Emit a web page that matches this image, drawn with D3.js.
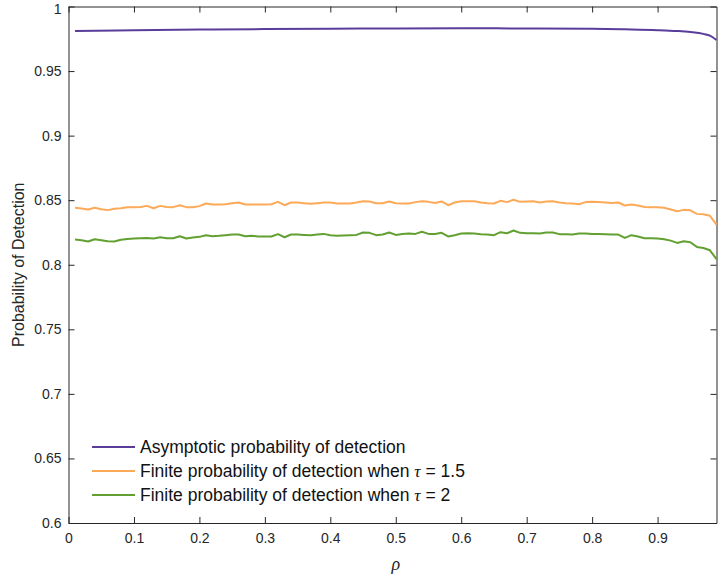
<!DOCTYPE html>
<html>
<head>
<meta charset="utf-8">
<script src="https://cdn.jsdelivr.net/npm/d3@7"></script>
<style>
  html, body { margin: 0; padding: 0; background: #fff; }
  svg { display: block; font-family: "Liberation Sans", Arial, Helvetica, sans-serif; }
</style>
</head>
<body>
<svg id="chart" width="720" height="579"></svg>
<script>
// rho grid for the simulated (finite) curves: 0.01 … 0.99
const rho = d3.range(1, 100).map(i => i / 100);

// Asymptotic detection probability (smooth curve), sampled at these rho values
const rhoAsym = [0.01, 0.1, 0.2, 0.3, 0.4, 0.5, 0.6, 0.7, 0.8, 0.85, 0.9, 0.93, 0.95, 0.97, 0.98, 0.99];
const pdAsym  = [0.9810, 0.9816, 0.9821, 0.9825, 0.9828, 0.9830, 0.9831, 0.9830, 0.9827, 0.9823, 0.9817, 0.9810, 0.9802, 0.9788, 0.9774, 0.9740];

// Finite probability of detection, tau = 1.5
const pdTau15 = [
  0.8441, 0.8436, 0.8428, 0.8441, 0.8430, 0.8423, 0.8433, 0.8438, 0.8446, 0.8446,
  0.8448, 0.8456, 0.8438, 0.8456, 0.8448, 0.8446, 0.8461, 0.8446, 0.8446, 0.8454,
  0.8474, 0.8466, 0.8466, 0.8469, 0.8477, 0.8482, 0.8466, 0.8466, 0.8466, 0.8466,
  0.8469, 0.8487, 0.8461, 0.8482, 0.8482, 0.8477, 0.8472, 0.8477, 0.8482, 0.8482,
  0.8474, 0.8474, 0.8474, 0.8482, 0.8492, 0.8490, 0.8477, 0.8477, 0.8490, 0.8477,
  0.8474, 0.8474, 0.8485, 0.8492, 0.8487, 0.8479, 0.8490, 0.8461, 0.8482, 0.8492,
  0.8492, 0.8492, 0.8482, 0.8477, 0.8474, 0.8495, 0.8485, 0.8503, 0.8487, 0.8490,
  0.8492, 0.8482, 0.8490, 0.8492, 0.8482, 0.8477, 0.8474, 0.8469, 0.8485, 0.8487,
  0.8485, 0.8482, 0.8479, 0.8482, 0.8459, 0.8466, 0.8459, 0.8448, 0.8446, 0.8446,
  0.8441, 0.8428, 0.8415, 0.8425, 0.8422, 0.8394, 0.8391, 0.8379, 0.8311
];

// Finite probability of detection, tau = 2
const pdTau2 = [
  0.8195, 0.8190, 0.8180, 0.8198, 0.8190, 0.8182, 0.8180, 0.8193, 0.8200, 0.8203,
  0.8205, 0.8208, 0.8203, 0.8213, 0.8205, 0.8205, 0.8221, 0.8203, 0.8211, 0.8216,
  0.8229, 0.8221, 0.8224, 0.8229, 0.8234, 0.8234, 0.8221, 0.8224, 0.8219, 0.8219,
  0.8219, 0.8237, 0.8213, 0.8234, 0.8234, 0.8231, 0.8229, 0.8234, 0.8239, 0.8229,
  0.8224, 0.8226, 0.8229, 0.8231, 0.8250, 0.8247, 0.8229, 0.8234, 0.8250, 0.8231,
  0.8239, 0.8242, 0.8239, 0.8255, 0.8239, 0.8239, 0.8247, 0.8219, 0.8229, 0.8242,
  0.8244, 0.8242, 0.8237, 0.8234, 0.8229, 0.8252, 0.8244, 0.8265, 0.8247, 0.8244,
  0.8244, 0.8242, 0.8250, 0.8250, 0.8237, 0.8237, 0.8234, 0.8242, 0.8242, 0.8239,
  0.8239, 0.8237, 0.8234, 0.8234, 0.8208, 0.8229, 0.8219, 0.8205, 0.8205, 0.8203,
  0.8198, 0.8187, 0.8169, 0.8182, 0.8174, 0.8138, 0.8130, 0.8112, 0.8043
];

const xTicks = [0, 0.1, 0.2, 0.3, 0.4, 0.5, 0.6, 0.7, 0.8, 0.9];
const yTicks = [0.6, 0.65, 0.7, 0.75, 0.8, 0.85, 0.9, 0.95, 1];
const legendLabels = [
  { text: "Asymptotic probability of detection" },
  { text: "Finite probability of detection when ", tau: "1.5" },
  { text: "Finite probability of detection when ", tau: "2" }
];
const colors = ["#5a3d9b", "#fdaa58", "#62a032"];

const margin = { left: 68.5, right: 3.5, top: 6.5, bottom: 56 };
const W = 720, H = 579;
const svg = d3.select("#chart");

const x = d3.scaleLinear().domain([0, 0.99]).range([margin.left, W - margin.right]);
const y = d3.scaleLinear().domain([0.6, 1]).range([H - margin.bottom, margin.top]);

const axisColor = "#262626";
const fmt = d => String(+d.toFixed(2));

function styleAxis(g) {
  g.select(".domain").attr("stroke", axisColor).attr("stroke-width", 1);
  g.selectAll(".tick line").attr("stroke", axisColor).attr("stroke-width", 1);
  g.selectAll(".tick text").attr("fill", axisColor).attr("font-size", 14)
    .attr("font-family", "'Liberation Sans', Arial, sans-serif");
}

// bottom axis
svg.append("g")
  .attr("transform", `translate(0,${y(0.6)})`)
  .call(d3.axisBottom(x).tickValues(xTicks).tickFormat(fmt).tickSizeInner(-6).tickSizeOuter(0).tickPadding(10))
  .call(styleAxis);

// top axis (box)
svg.append("g")
  .attr("transform", `translate(0,${y(1)})`)
  .call(d3.axisTop(x).tickValues(xTicks).tickFormat("").tickSizeInner(-6).tickSizeOuter(0))
  .call(styleAxis);

// left axis
const leftAxis = svg.append("g")
  .attr("transform", `translate(${x(0)},0)`)
  .call(d3.axisLeft(y).tickValues(yTicks).tickFormat(fmt).tickSizeInner(-6).tickSizeOuter(0).tickPadding(7))
  .call(styleAxis);
// keep the topmost label inside the canvas
leftAxis.selectAll(".tick text").filter(d => d === 1).attr("dy", "0.5em");

// right axis (box)
svg.append("g")
  .attr("transform", `translate(${x(0.99)},0)`)
  .call(d3.axisRight(y).tickValues(yTicks).tickFormat("").tickSizeInner(-6).tickSizeOuter(0))
  .call(styleAxis);

// curves
const lineFinite = d3.line().x(d => x(d[0])).y(d => y(d[1]));
const lineAsym = d3.line().x(d => x(d[0])).y(d => y(d[1])).curve(d3.curveMonotoneX);

const plot = svg.append("g");
plot.append("path")
  .datum(rhoAsym.map((r, i) => [r, pdAsym[i]]))
  .attr("d", lineAsym).attr("fill", "none").attr("stroke", colors[0]).attr("stroke-width", 2);
plot.append("path")
  .datum(rho.map((r, i) => [r, pdTau15[i]]))
  .attr("d", lineFinite).attr("fill", "none").attr("stroke", colors[1]).attr("stroke-width", 2)
  .attr("stroke-linejoin", "round");
plot.append("path")
  .datum(rho.map((r, i) => [r, pdTau2[i]]))
  .attr("d", lineFinite).attr("fill", "none").attr("stroke", colors[2]).attr("stroke-width", 2)
  .attr("stroke-linejoin", "round");

// legend
const legend = svg.append("g").attr("transform", "translate(92,447)");
legendLabels.forEach((item, i) => {
  const row = legend.append("g").attr("transform", `translate(0,${i * 24})`);
  row.append("line").attr("x1", 0).attr("x2", 43).attr("y1", 0).attr("y2", 0)
    .attr("stroke", colors[i]).attr("stroke-width", 2);
  const t = row.append("text").attr("x", 48).attr("y", 6)
    .attr("font-size", 17.5).attr("fill", "#111");
  t.append("tspan").text(item.text);
  if (item.tau) {
    t.append("tspan").attr("font-family", "'Liberation Serif', 'Times New Roman', serif")
      .attr("font-style", "italic").text("τ");
    t.append("tspan").text(" = " + item.tau);
  }
});

// axis labels
svg.append("text")
  .attr("transform", `translate(24,${(y(0.6) + y(1)) / 2}) rotate(-90)`)
  .attr("text-anchor", "middle").attr("font-size", 16).attr("fill", axisColor)
  .text("Probability of Detection");

svg.append("text")
  .attr("x", x(0.5)).attr("y", 570)
  .attr("text-anchor", "middle").attr("font-size", 18).attr("fill", axisColor)
  .attr("font-family", "'Liberation Serif', 'Times New Roman', serif")
  .attr("font-style", "italic")
  .text("ρ");
</script>
</body>
</html>
